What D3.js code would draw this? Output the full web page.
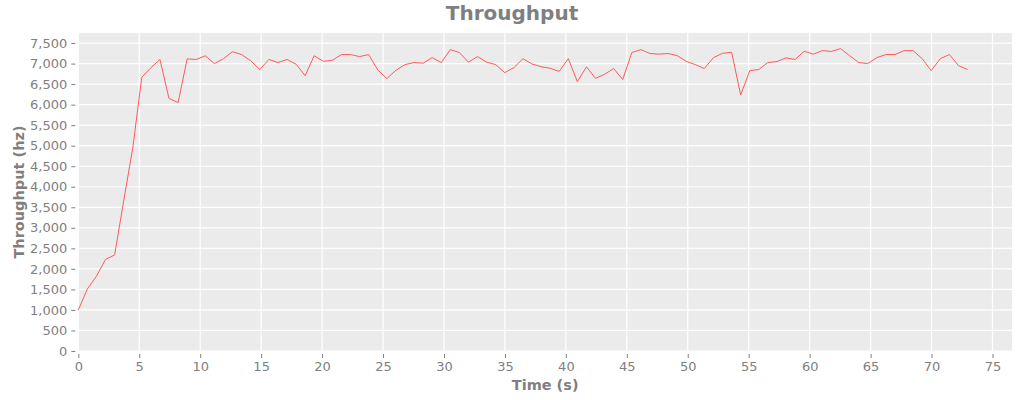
<!DOCTYPE html>
<html>
<head>
<meta charset="utf-8">
<script src="https://cdn.jsdelivr.net/npm/d3@7"></script>
<style>
  html, body { margin: 0; padding: 0; background: #fff; }
  svg { display: block; font-family: "DejaVu Sans", sans-serif; }
</style>
</head>
<body>
<svg id="chart" width="1024" height="400"></svg>
<script>
const times = [0, 0.74, 1.49, 2.23, 2.98, 3.72, 4.47, 5.21, 5.96, 6.70,
  7.44, 8.19, 8.93, 9.68, 10.42, 11.17, 11.91, 12.65, 13.40, 14.14,
  14.89, 15.63, 16.38, 17.12, 17.87, 18.61, 19.35, 20.10, 20.84, 21.59,
  22.33, 23.08, 23.82, 24.57, 25.31, 26.05, 26.80, 27.54, 28.29, 29.03,
  29.78, 30.52, 31.26, 32.01, 32.75, 33.50, 34.24, 34.99, 35.73, 36.48,
  37.22, 37.96, 38.71, 39.45, 40.20, 40.94, 41.69, 42.43, 43.18, 43.92,
  44.66, 45.41, 46.15, 46.90, 47.64, 48.39, 49.13, 49.87, 50.62, 51.36,
  52.11, 52.85, 53.60, 54.34, 55.09, 55.83, 56.57, 57.32, 58.06, 58.81,
  59.55, 60.30, 61.04, 61.79, 62.53, 63.27, 64.02, 64.76, 65.51, 66.25,
  67.00, 67.74, 68.48, 69.23, 69.97, 70.72, 71.46, 72.21, 72.95];
const throughput = [1000, 1510, 1820, 2230, 2340, 3650, 4950, 6670, 6900, 7100,
  6150, 6050, 7115, 7100, 7190, 7000, 7120, 7290, 7220, 7070,
  6855, 7100, 7025, 7100, 6985, 6705, 7190, 7055, 7080, 7220,
  7220, 7170, 7220, 6845, 6635, 6835, 6975, 7025, 7010, 7145,
  7025, 7340, 7270, 7035, 7170, 7035, 6975, 6780, 6900, 7120,
  6990, 6925, 6885, 6810, 7120, 6560, 6920, 6640, 6740, 6880,
  6610, 7270, 7340, 7245, 7230, 7245, 7195, 7055, 6975, 6880,
  7145, 7250, 7275, 6235, 6830, 6855, 7025, 7050, 7140, 7100,
  7300, 7230, 7315, 7295, 7365, 7195, 7025, 7000, 7145, 7220,
  7220, 7315, 7315, 7120, 6830, 7120, 7220, 6950, 6855];
const xTicks = [0, 5, 10, 15, 20, 25, 30, 35, 40, 45, 50, 55, 60, 65, 70, 75];
const yTicks = [0, 500, 1000, 1500, 2000, 2500, 3000, 3500, 4000, 4500, 5000, 5500, 6000, 6500, 7000, 7500];
const titleText = "Throughput";
const xLabel = "Time (s)";
const yLabel = "Throughput (hz)";

const svg = d3.select("#chart");
const L = 78.3, R = 1012, T = 33, B = 351;
const x = d3.scaleLinear().domain([0, 76.6]).range([L, R]);
const y = d3.scaleLinear().domain([0, 7745]).range([B, T]);
const grey = "#7f7f7f";

svg.append("rect").attr("x", L).attr("y", T).attr("width", R - L).attr("height", B - T)
  .attr("fill", "#ebebeb");

const grid = svg.append("g").attr("stroke", "#ffffff").attr("stroke-width", 1.2);
grid.selectAll("line.gx").data(xTicks).join("line")
  .attr("x1", d => x(d)).attr("x2", d => x(d)).attr("y1", T).attr("y2", B);
grid.selectAll("line.gy").data(yTicks).join("line")
  .attr("x1", L).attr("x2", R).attr("y1", d => y(d)).attr("y2", d => y(d));

const xAxis = d3.axisBottom(x).tickValues(xTicks).tickFormat(d3.format("d"))
  .tickSizeInner(4).tickSizeOuter(0).tickPadding(4);
const gx = svg.append("g").attr("transform", `translate(0,${B + 3})`).call(xAxis);
gx.select(".domain").remove();
gx.selectAll(".tick line").attr("stroke", grey);
gx.selectAll(".tick text").attr("fill", grey).attr("font-size", 13)
  .attr("font-family", "DejaVu Sans");

const yAxis = d3.axisLeft(y).tickValues(yTicks).tickFormat(d3.format(","))
  .tickSizeInner(4).tickSizeOuter(0).tickPadding(4);
const gy = svg.append("g").attr("transform", `translate(${L - 3},0)`).call(yAxis);
gy.select(".domain").remove();
gy.selectAll(".tick line").attr("stroke", grey);
gy.selectAll(".tick text").attr("fill", grey).attr("font-size", 13)
  .attr("font-family", "DejaVu Sans");

const data = times.map((t, i) => ({ t, v: throughput[i] }));
svg.append("path").datum(data)
  .attr("fill", "none").attr("stroke", "#ff5a5a").attr("stroke-width", 1)
  .attr("d", d3.line().x(d => x(d.t)).y(d => y(d.v)));

svg.append("text").attr("x", 512).attr("y", 20).attr("text-anchor", "middle")
  .attr("font-size", 20).attr("font-weight", "bold").attr("fill", grey).text(titleText);
svg.append("text").attr("x", (L + R) / 2).attr("y", 390).attr("text-anchor", "middle")
  .attr("font-size", 14.5).attr("font-weight", "bold").attr("fill", grey).text(xLabel);
svg.append("text").attr("transform", `translate(24,${(T + B) / 2}) rotate(-90)`)
  .attr("text-anchor", "middle")
  .attr("font-size", 14.5).attr("font-weight", "bold").attr("fill", grey).text(yLabel);
</script>
</body>
</html>
